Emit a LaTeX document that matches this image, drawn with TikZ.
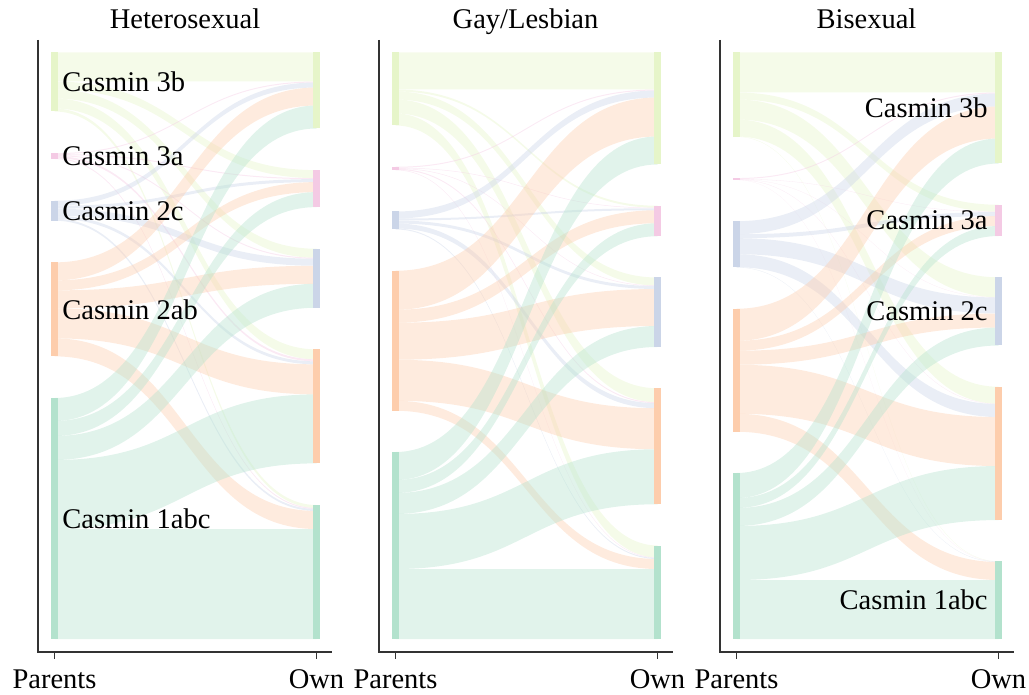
\documentclass[tikz,border=0pt]{standalone}
\usepackage{fontspec}
\setmainfont{Liberation Serif}
\definecolor{c0}{HTML}{E6F5C9}
\definecolor{c1}{HTML}{F4CAE4}
\definecolor{c2}{HTML}{CBD5E8}
\definecolor{c3}{HTML}{FDCDAC}
\definecolor{c4}{HTML}{B3E2CD}
\definecolor{axisc}{HTML}{333333}
\tikzset{
  ribbon/.style={fill=#1, fill opacity=0.4, draw=none},
  axisline/.style={draw=axisc, line width=0.6pt},
  lbl/.style={font=\fontsize{14.25pt}{17pt}\selectfont, inner sep=0pt, text=black},
}
% flow matrices: rows = parents (3b,3a,2c,2ab,1abc), cols = own (same order)
\def\Mone{{29,8,9,10,3, 1,1,1,2,1, 5,3,7,3,2, 18,10,18,30,18, 23,15,24,69,110}}
\def\Mtwo{{37,2,8,14,12, 1,0.5,0.5,1,0.5, 7,2,3,5,1, 39,13,37,41,10, 28,13,21,55,70}}
\def\Mthree{{40,7,20,17,0.3, 1,0.3,0.2,0.3,0.1, 13,4,16,13,0.3, 32,10,14,49,18, 25,10,18,54,59}}
\def\SKget#1#2{\csname SK#1#2\endcsname}
\newcommand\sankeypanel[2]{%
  \pgfmathsetmacro\SKxa{#1+16.5}%
  \pgfmathsetmacro\SKxb{#1+278.5}%
  \pgfmathsetmacro\SKxm{(\SKxa+\SKxb)/2}%
  \foreach \i in {0,...,4}{%
    \pgfmathsetmacro\SKs{#2[\i*5]+#2[\i*5+1]+#2[\i*5+2]+#2[\i*5+3]+#2[\i*5+4]}%
    \expandafter\xdef\csname SKR\i\endcsname{\SKs}%
    \pgfmathsetmacro\SKs{#2[\i]+#2[\i+5]+#2[\i+10]+#2[\i+15]+#2[\i+20]}%
    \expandafter\xdef\csname SKC\i\endcsname{\SKs}%
  }%
  \edef\SKsumL{\SKget{R}{0}+\SKget{R}{1}+\SKget{R}{2}+\SKget{R}{3}+\SKget{R}{4}}%
  \edef\SKsumR{\SKget{C}{0}+\SKget{C}{1}+\SKget{C}{2}+\SKget{C}{3}+\SKget{C}{4}}%
  \pgfmathsetmacro\SKgL{(586.5-(\SKsumL))/4}%
  \pgfmathsetmacro\SKgR{(586.5-(\SKsumR))/4}%
  \xdef\SKtmpL{52.5}\xdef\SKtmpR{52.5}%
  \foreach \i in {0,...,4}{%
    \expandafter\xdef\csname SKLT\i\endcsname{\SKtmpL}%
    \expandafter\xdef\csname SKRT\i\endcsname{\SKtmpR}%
    \expandafter\xdef\csname SKRO\i\endcsname{\SKtmpR}%
    \edef\SKh{\SKget{R}{\i}}%
    \pgfmathsetmacro\SKt{\SKtmpL+\SKh+\SKgL}\xdef\SKtmpL{\SKt}%
    \edef\SKh{\SKget{C}{\i}}%
    \pgfmathsetmacro\SKt{\SKtmpR+\SKh+\SKgR}\xdef\SKtmpR{\SKt}%
  }%
  \foreach \i in {0,...,4}{%
    \xdef\SKyl{\SKget{LT}{\i}}%
    \foreach \j in {0,...,4}{%
      \pgfmathsetmacro\SKw{#2[\i*5+\j]}%
      \edef\SKyr{\SKget{RO}{\j}}%
      \pgfmathsetmacro\SKylb{\SKyl+\SKw}%
      \pgfmathsetmacro\SKyrb{\SKyr+\SKw}%
      \fill[ribbon=c\i] (\SKxa,\SKyl) .. controls (\SKxm,\SKyl) and (\SKxm,\SKyr) .. (\SKxb,\SKyr)
        -- (\SKxb,\SKyrb) .. controls (\SKxm,\SKyrb) and (\SKxm,\SKylb) .. (\SKxa,\SKylb) -- cycle;
      \xdef\SKyl{\SKylb}%
      \expandafter\xdef\csname SKRO\j\endcsname{\SKyrb}%
    }%
  }%
  \pgfmathsetmacro\SKxl{#1+13}%
  \pgfmathsetmacro\SKxr{#1+275}%
  \foreach \i in {0,...,4}{%
    \edef\SKya{\SKget{LT}{\i}}%
    \edef\SKha{\SKget{R}{\i}}%
    \edef\SKyb{\SKget{RT}{\i}}%
    \edef\SKhb{\SKget{C}{\i}}%
    \fill[c\i] (\SKxl,\SKya) rectangle ++(7,\SKha);
    \fill[c\i] (\SKxr,\SKyb) rectangle ++(7,\SKhb);
  }%
  \pgfmathsetmacro\SKxe{#1+294}%
  \draw[axisline] (#1,40) -- (#1,652) -- (\SKxe,652);
  \draw[axisline] (\SKxa,652) -- (\SKxa,659);
  \draw[axisline] (\SKxb,652) -- (\SKxb,659);
}
\begin{document}
\begin{tikzpicture}[x=0.5pt,y=-0.5pt]
\useasboundingbox (0,0) rectangle (1029,695);
% Panel 1
\sankeypanel{38}{\Mone}
\foreach \i/\lab in {0/Casmin 3b,1/Casmin 3a,2/Casmin 2c,3/Casmin 2ab,4/Casmin 1abc}{%
  \edef\SKya{\SKget{LT}{\i}}\edef\SKha{\SKget{R}{\i}}%
  \pgfmathsetmacro\SKyc{\SKya+\SKha/2}%
  \node[lbl, anchor=west] (hl\i) at (62,\SKyc) {\lab};
}
% Panel 2
\sankeypanel{379}{\Mtwo}
% Panel 3
\sankeypanel{720}{\Mthree}
\foreach \i/\lab in {0/Casmin 3b,1/Casmin 3a,2/Casmin 2c,4/Casmin 1abc}{%
  \edef\SKya{\SKget{RT}{\i}}\edef\SKha{\SKget{C}{\i}}%
  \pgfmathsetmacro\SKyc{\SKya+\SKha/2}%
  \node[lbl, anchor=east] (bl\i) at (988,\SKyc) {\lab};
}
% titles
\node[lbl, anchor=base] (title1) at (185,29) {Heterosexual};
\node[lbl, anchor=base] (title2) at (525.5,29) {Gay/Lesbian};
\node[lbl, anchor=base] (title3) at (866.5,29) {Bisexual};
% axis labels
\node[lbl, anchor=base] (p1) at (54.5,688) {Parents};
\node[lbl, anchor=base] (o1) at (316.5,688) {Own};
\node[lbl, anchor=base] (p2) at (395.5,688) {Parents};
\node[lbl, anchor=base] (o2) at (657.5,688) {Own};
\node[lbl, anchor=base] (p3) at (736.5,688) {Parents};
\node[lbl, anchor=base] (o3) at (998.5,688) {Own};
\end{tikzpicture}
\end{document}
